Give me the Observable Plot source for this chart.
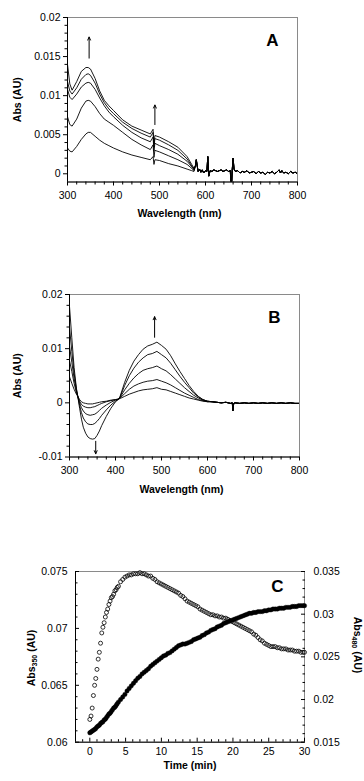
<!DOCTYPE html>
<html><head><meta charset="utf-8">
<script src="https://cdn.jsdelivr.net/npm/d3@7"></script>
<script src="https://cdn.jsdelivr.net/npm/@observablehq/plot@0.6"></script>
<style>
body{margin:0;background:#fff;}
#wrap{position:relative;width:364px;height:781px;overflow:hidden;background:#fff;}
#wrap svg{position:absolute;left:0;}
</style></head><body><div id="wrap"></div>
<script>
// ---------- Panel A data ----------
const wlA = [300,305,310,320,330,340,345,350,360,370,380,390,400,420,440,460,480,486,488,490,500,520,540,560,570,575];
const a1 = [0.0140,0.0115,0.0107,0.0118,0.0131,0.0136,0.0136,0.0134,0.0122,0.0106,0.0094,0.0087,0.0081,0.0069,0.0061,0.0056,0.0051,0.0057,0.0038,0.0049,0.0047,0.0041,0.0034,0.0022,0.0012,0.0007];
const a2 = [0.0118,0.0106,0.0102,0.0110,0.0121,0.0127,0.0128,0.0126,0.0116,0.0102,0.0091,0.0083,0.0077,0.0066,0.0058,0.0052,0.0047,0.0053,0.0034,0.0045,0.0043,0.0037,0.0030,0.0019,0.0010,0.0006];
const a3 = [0.0108,0.0098,0.0095,0.0102,0.0111,0.0116,0.0117,0.0116,0.0108,0.0097,0.0087,0.0079,0.0073,0.0062,0.0053,0.0046,0.0041,0.0047,0.0029,0.0039,0.0036,0.0031,0.0025,0.0016,0.0009,0.0005];
const a4 = [0.0073,0.0063,0.0061,0.0070,0.0084,0.0093,0.0094,0.0093,0.0086,0.0077,0.0070,0.0066,0.0062,0.0053,0.0044,0.0037,0.0031,0.0037,0.0021,0.0030,0.0028,0.0023,0.0018,0.0012,0.0007,0.0004];
const a5 = [0.0033,0.0029,0.0028,0.0035,0.0044,0.0051,0.0053,0.0053,0.0048,0.0043,0.0039,0.0036,0.0033,0.0028,0.0024,0.0021,0.0018,0.0022,0.0012,0.0018,0.0017,0.0013,0.0010,0.0006,0.0004,0.0003];
const tailWlA = [578,580,582,584,587,590,593,596,600,603,605,607,610,614,618,622,626,630,634,638,642,646,650,654,655,657,658,660,662,665,670,675,680,685,690,695,700,705,710,715,720,725,730,735,740,745,750,755,760,763,766,770,775,780,785,790,795,800];
const tailA = [0.0010,0.0018,0.0010,0.0003,0.0006,0.0002,0.0005,0.0001,0.0004,0.0003,0.0022,-0.0003,0.0004,0.0003,0.0005,0.0004,0.0003,0.0004,0.0005,0.0003,0.0004,0.0005,0.0003,0.0004,-0.0011,-0.0011,0.0004,0.0020,0.0006,0.0003,0.0004,0.0001,0.0003,0.0002,0.0004,0.0001,0.0002,0.0003,0.0000,0.0003,0.0001,0.0002,-0.0001,0.0002,0.0001,0.0003,0.0000,0.0002,0.0005,0.0001,0.0004,0.0001,0.0002,0.0000,0.0003,0.0001,0.0002,0.0000];
const arrowsA = [{x1:347,y1:0.0148,x2:347,y2:0.0175},{x1:490,y1:0.0063,x2:490,y2:0.0088}];

// ---------- Panel B data ----------
const wlB = [300,305,310,315,318,322,326,330,335,340,345,350,355,360,365,370,380,390,400,407,410,420,430,440,450,460,470,480,490,500,510,520,530,540,550,560,570,580,590,600];
const b1 = [0.0178,0.0120,0.0065,0.0027,0.0012,-0.0010,-0.0030,-0.0045,-0.0056,-0.0063,-0.0066,-0.0067,-0.0066,-0.0060,-0.0052,-0.0042,-0.0025,-0.0010,0.0002,0.0007,0.0012,0.0038,0.0060,0.0077,0.0089,0.0099,0.0105,0.0108,0.0112,0.0106,0.0099,0.0087,0.0072,0.0058,0.0045,0.0032,0.0021,0.0012,0.0006,0.0003];
const b2 = [0.0140,0.0095,0.0055,0.0025,0.0012,-0.0005,-0.0018,-0.0028,-0.0035,-0.0039,-0.0040,-0.0040,-0.0038,-0.0034,-0.0029,-0.0023,-0.0013,-0.0004,0.0003,0.0007,0.0011,0.0032,0.0050,0.0064,0.0075,0.0083,0.0089,0.0091,0.0095,0.0089,0.0083,0.0073,0.0061,0.0049,0.0038,0.0028,0.0018,0.0011,0.0006,0.0003];
const b3 = [0.0105,0.0075,0.0045,0.0022,0.0012,0.0000,-0.0009,-0.0015,-0.0020,-0.0022,-0.0023,-0.0022,-0.0021,-0.0018,-0.0014,-0.0010,-0.0004,0.0001,0.0005,0.0007,0.0010,0.0024,0.0036,0.0046,0.0054,0.0060,0.0063,0.0065,0.0068,0.0063,0.0059,0.0052,0.0044,0.0036,0.0028,0.0021,0.0014,0.0009,0.0005,0.0003];
const b4 = [0.0078,0.0058,0.0036,0.0019,0.0012,0.0003,-0.0003,-0.0006,-0.0008,-0.0009,-0.0009,-0.0008,-0.0007,-0.0005,-0.0003,-0.0001,0.0002,0.0004,0.0006,0.0007,0.0009,0.0017,0.0025,0.0031,0.0035,0.0038,0.0040,0.0041,0.0043,0.0040,0.0037,0.0033,0.0028,0.0023,0.0018,0.0014,0.0010,0.0006,0.0004,0.0002];
const b5 = [0.0048,0.0036,0.0025,0.0016,0.0012,0.0006,0.0002,0.0000,-0.0001,-0.0002,-0.0002,-0.0002,-0.0001,0.0000,0.0001,0.0002,0.0003,0.0005,0.0006,0.0007,0.0008,0.0012,0.0016,0.0019,0.0022,0.0024,0.0025,0.0026,0.0028,0.0025,0.0024,0.0021,0.0018,0.0015,0.0012,0.0009,0.0007,0.0005,0.0003,0.0002];
const tailWlB = [610,620,630,640,650,654,655,657,660,670,680,690,700,710,720,730,740,750,760,770,780,790,800];
const tailB = [0.0002,0.0001,0.0000,0.0001,-0.0001,0.0000,-0.0015,-0.0001,0.0000,-0.0001,0.0000,-0.0001,0.0000,-0.0001,0.0000,-0.0001,0.0000,-0.0001,0.0000,-0.0001,0.0000,-0.0001,-0.0001];
const arrowsB = [{x1:485,y1:0.0121,x2:485,y2:0.0159},{x1:357,y1:-0.0071,x2:357,y2:-0.0094}];

// ---------- Panel C data ----------
const timeC = [0,0.17,0.33,0.5,0.67,0.83,1,1.17,1.33,1.5,
1.67,1.83,2,2.17,2.33,2.5,2.67,2.83,3,3.17,
3.33,3.5,3.67,3.83,4,4.3,4.6,4.9,5.2,5.5,
5.8,6.1,6.4,6.7,7,7.3,7.6,7.9,8.2,8.5,
8.8,9.1,9.4,9.7,10,10.3,10.6,10.9,11.2,11.5,
11.8,12.1,12.4,12.7,13,13.3,13.6,13.9,14.2,14.5,
14.8,15.1,15.4,15.7,16,16.3,16.6,16.9,17.2,17.5,
17.8,18.1,18.4,18.7,19,19.3,19.6,19.9,20.2,20.5,
20.8,21.1,21.4,21.7,22,22.3,22.6,22.9,23.2,23.5,
23.8,24.1,24.4,24.7,25,25.3,25.6,25.9,26.2,26.5,
26.8,27.1,27.4,27.7,28,28.3,28.6,28.9,29.2,29.5,
29.8,30];
const abs350 = [0.0620,0.0623,0.0630,0.0641,0.0650,0.0656,0.0664,0.0673,0.0679,0.0687,
0.0696,0.0701,0.0705,0.0710,0.0714,0.0717,0.0721,0.0724,0.0727,0.0728,
0.0730,0.0733,0.0734,0.0736,0.0737,0.0741,0.0743,0.0745,0.0746,0.0747,
0.0747,0.0748,0.0748,0.0748,0.0749,0.0748,0.0748,0.0747,0.0746,0.0746,
0.0744,0.0743,0.0741,0.0740,0.0739,0.0738,0.0737,0.0736,0.0735,0.0734,
0.0733,0.0732,0.0731,0.0729,0.0728,0.0726,0.0724,0.0723,0.0722,0.0721,
0.0720,0.0719,0.0717,0.0716,0.0715,0.0714,0.0713,0.0712,0.0712,0.0711,
0.0711,0.0710,0.0710,0.0709,0.0709,0.0708,0.0707,0.0706,0.0705,0.0704,
0.0703,0.0702,0.0701,0.0700,0.0699,0.0698,0.0697,0.0695,0.0694,0.0692,
0.0690,0.0689,0.0687,0.0686,0.0685,0.0684,0.0684,0.0684,0.0683,0.0683,
0.0682,0.0682,0.0682,0.0681,0.0681,0.0681,0.0680,0.0680,0.0680,0.0679,
0.0679,0.0679];
const abs480 = [0.0161,0.0162,0.0163,0.0164,0.0165,0.0166,0.0168,0.0169,0.0170,0.0172,
0.0173,0.0174,0.0176,0.0177,0.0179,0.0181,0.0183,0.0184,0.0186,0.0188,
0.0190,0.0191,0.0193,0.0195,0.0197,0.0200,0.0203,0.0206,0.0210,0.0213,
0.0216,0.0219,0.0222,0.0225,0.0227,0.0230,0.0232,0.0234,0.0236,0.0239,
0.0241,0.0243,0.0245,0.0247,0.0249,0.0251,0.0252,0.0254,0.0255,0.0257,
0.0259,0.0261,0.0263,0.0264,0.0265,0.0265,0.0266,0.0267,0.0268,0.0270,
0.0271,0.0272,0.0273,0.0275,0.0276,0.0278,0.0279,0.0281,0.0282,0.0283,
0.0285,0.0286,0.0287,0.0289,0.0290,0.0291,0.0292,0.0293,0.0294,0.0295,
0.0296,0.0297,0.0298,0.0299,0.0300,0.0301,0.0301,0.0302,0.0302,0.0303,
0.0303,0.0303,0.0304,0.0304,0.0305,0.0305,0.0306,0.0306,0.0306,0.0307,
0.0307,0.0307,0.0308,0.0308,0.0308,0.0309,0.0309,0.0309,0.0310,0.0310,
0.0310,0.0310];

// ---------- Tick labels ----------
const xMajWl = [300,400,500,600,700,800];
const xMinWl = [320,340,360,380,420,440,460,480,520,540,560,580,620,640,660,680,720,740,760,780];
const yMajA = [0,0.005,0.01,0.015,0.02];
const yMinA = [0.001,0.002,0.003,0.004,0.006,0.007,0.008,0.009,0.011,0.012,0.013,0.014,0.016,0.017,0.018,0.019];
const yMajB = [-0.01,0,0.01,0.02];
const yMinB = [-0.008,-0.006,-0.004,-0.002,0.002,0.004,0.006,0.008,0.012,0.014,0.016,0.018];
const xMajC = [0,5,10,15,20,25,30];
const xMinC = [-1,1,2,3,4,6,7,8,9,11,12,13,14,16,17,18,19,21,22,23,24,26,27,28,29];
const yMajC = [0.06,0.065,0.07,0.075];
const yMinC = [0.061,0.062,0.063,0.064,0.066,0.067,0.068,0.069,0.071,0.072,0.073,0.074];
const yMajR = [0.015,0.02,0.025,0.03,0.035];
const yMinR = [0.016,0.017,0.018,0.019,0.021,0.022,0.023,0.024,0.026,0.027,0.028,0.029,0.031,0.032,0.033,0.034];

// ---------- helpers ----------
const FONT = "'Liberation Sans', Arial, Helvetica, sans-serif";
const fmt = d => String(+(+d).toFixed(4));
const blank = () => "";
const FRAME = "#8a8a8a";
const TF = 10.5;
const wrap = document.getElementById("wrap");
function place(svg, top){ svg.style.top = top + "px"; wrap.appendChild(svg); return svg; }

function spectra(series, wl, tailWl, tail){
  return series.flatMap((s,k)=>[
    ...wl.map((w,i)=>({w, v:s[i], k})),
    ...tailWl.map((w,i)=>({w, v:tail[i], k}))
  ]);
}

function spectrumPanel({rows, arrows, yDomain, yMaj, yMin, letter, height, mt, mb, ml, mr, titleDy, yTitleDx}){
  return Plot.plot({
    width: 364, height, marginTop: mt, marginBottom: mb, marginLeft: ml, marginRight: mr,
    x: {domain: [300, 800], label: null},
    y: {domain: yDomain, label: null},
    style: {fontFamily: FONT, background: "white", color: "black", overflow: "visible"},
    marks: [
      Plot.frame({stroke: FRAME, strokeWidth: 1}),
      Plot.line(rows, {x: "w", y: "v", z: "k", stroke: "black", strokeWidth: 0.9, clip: true}),
      Plot.ruleX([300], {stroke: "black", strokeWidth: 1}),
      Plot.ruleY([yDomain[0]], {stroke: "black", strokeWidth: 1}),
      Plot.axisX(xMajWl, {tickSize: 4, tickPadding: 6, tickFormat: d => String(d), fontSize: TF, label: null}),
      Plot.axisX(xMinWl, {tickSize: 3, tickFormat: blank, label: null}),
      Plot.axisY(yMaj, {tickSize: 4, tickPadding: 3, tickFormat: fmt, fontSize: TF, label: null}),
      Plot.axisY(yMin, {tickSize: 2.5, tickFormat: blank, label: null}),
      Plot.arrow(arrows, {x1: "x1", y1: "y1", x2: "x2", y2: "y2", stroke: "black", strokeWidth: 1, headLength: 5, headAngle: 50}),
      Plot.text([letter], {frameAnchor: "top-right", dx: -25, dy: 23, fontWeight: "bold", fontSize: 17, textAnchor: "middle", lineAnchor: "middle"}),
      Plot.text(["Wavelength (nm)"], {frameAnchor: "bottom", dy: titleDy, fontWeight: "bold", fontSize: 10.5, textAnchor: "middle", lineAnchor: "middle", dx: -3}),
      Plot.text(["Abs (AU)"], {frameAnchor: "left", dx: yTitleDx, rotate: -90, fontWeight: "bold", fontSize: 10.5, textAnchor: "middle", lineAnchor: "middle"})
    ]
  });
}

// Panel A
const rowsA = spectra([a1,a2,a3,a4,a5], wlA, tailWlA, tailA);
place(spectrumPanel({rows: rowsA, arrows: arrowsA, yDomain: [-0.00105, 0.02], yMaj: yMajA, yMin: yMinA, letter: "A",
  height: 222, mt: 17, mb: 40.5, ml: 67, mr: 67, titleDy: 31.5, yTitleDx: -50}), 0);

// Panel B
const rowsB = spectra([b1,b2,b3,b4,b5], wlB, tailWlB, tailB);
place(spectrumPanel({rows: rowsB, arrows: arrowsB, yDomain: [-0.01, 0.02], yMaj: yMajB, yMin: yMinB, letter: "B",
  height: 250, mt: 44, mb: 43.5, ml: 69, mr: 65, titleDy: 33, yTitleDx: -52}), 250);

// Panel C (two y scales: right axis values mapped onto the left scale)
const toL = v => 0.06 + (v - 0.015) * 0.75;
const fromL = v => 0.015 + (v - 0.06) / 0.75;
const rows350 = timeC.map((t,i)=>({t, v: abs350[i]}));
const rows480 = timeC.map((t,i)=>({t, v: toL(abs480[i])}));
const svgC = Plot.plot({
  width: 364, height: 251, marginTop: 41, marginBottom: 39.3, marginLeft: 75, marginRight: 60,
  x: {domain: [-2, 30], label: null},
  y: {domain: [0.06, 0.075], label: null},
  style: {fontFamily: FONT, background: "white", color: "black", overflow: "visible"},
  marks: [
    Plot.frame({stroke: FRAME, strokeWidth: 1}),
    Plot.ruleX([-2], {stroke: "black", strokeWidth: 1}),
    Plot.ruleY([0.06], {stroke: "black", strokeWidth: 1}),
    Plot.dot(rows480, {x: "t", y: "v", r: 2.2, fill: "black", stroke: "black", strokeWidth: 0.4}),
    Plot.dot(rows350, {x: "t", y: "v", r: 2, fill: "none", stroke: "black", strokeWidth: 0.8}),
    Plot.axisX(xMajC, {tickSize: -4, tickPadding: 9, tickFormat: d => String(d), fontSize: TF, label: null}),
    Plot.axisX(xMinC, {tickSize: -2.5, tickFormat: blank, label: null}),
    Plot.axisY(yMajC, {tickSize: -4, tickPadding: 12, tickFormat: fmt, fontSize: TF, label: null}),
    Plot.axisY(yMinC, {tickSize: -2.5, tickFormat: blank, label: null}),
    Plot.axisY(yMajR.map(toL), {anchor: "right", tickSize: -4, tickPadding: 13, tickFormat: d => fmt(fromL(d)), fontSize: TF, label: null}),
    Plot.axisY(yMinR.map(toL), {anchor: "right", tickSize: -2.5, tickFormat: blank, label: null}),
    Plot.text(["C"], {frameAnchor: "top-right", dx: -27, dy: 15, fontWeight: "bold", fontSize: 17, textAnchor: "middle", lineAnchor: "middle"}),
    Plot.text(["Time (min)"], {frameAnchor: "bottom", dy: 23.5, fontWeight: "bold", fontSize: 10.5, textAnchor: "middle", lineAnchor: "middle"})
  ]
});
place(svgC, 530);
// axis titles with subscripts
const gC = d3.select(svgC);
function subTitle(x, y, rot, sub){
  const t = gC.append("text").attr("transform", `translate(${x},${y}) rotate(${rot})`)
    .attr("text-anchor", "middle").attr("dominant-baseline", "middle")
    .attr("font-family", FONT).attr("font-weight", "bold").attr("font-size", 10.5).attr("fill", "black");
  t.append("tspan").text("Abs");
  t.append("tspan").attr("font-size", 7).attr("dy", 3).text(sub);
  t.append("tspan").attr("dy", -3).text(" (AU)");
}
subTitle(32, 128, -90, "350");
subTitle(357, 115, 90, "480");
</script></body></html>
